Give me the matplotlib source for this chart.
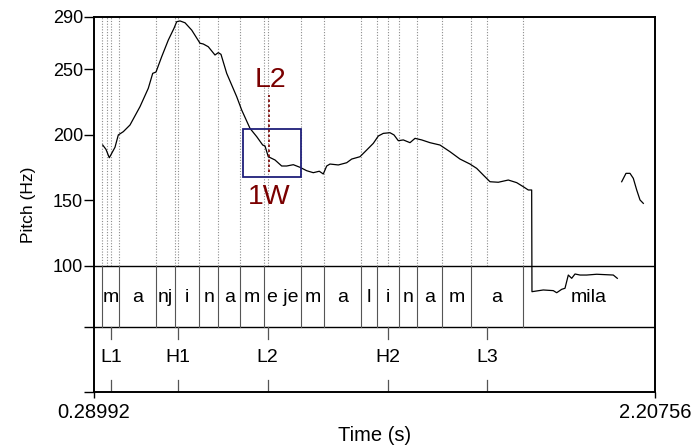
import matplotlib
matplotlib.use("Agg")
import matplotlib.pyplot as plt
from matplotlib.patches import Rectangle

plt.rcParams["font.family"] = ["Liberation Sans", "DejaVu Sans"]

# time axis limits (s)
t_start = 0.28992
t_end = 2.20756

# pitch track (s, Hz), first voiced stretch
pitch_t1 = [0.3197, 0.3309, 0.3422, 0.3617, 0.3730, 0.3901, 0.4130, 0.4472, 0.4755, 0.4906,
            0.5018, 0.5213, 0.5439, 0.5634, 0.5726, 0.5839, 0.6010, 0.6239, 0.6522, 0.6635,
            0.6806, 0.7035, 0.7148, 0.7240, 0.7435, 0.7777, 0.7948, 0.8232, 0.8461, 0.8666,
            0.8744, 0.8857, 0.9086, 0.9315, 0.9486, 0.9712, 0.9941, 1.0170, 1.0395, 1.0600,
            1.0737, 1.0853, 1.0966, 1.1250, 1.1537, 1.1708, 1.1992, 1.2221, 1.2447, 1.2618,
            1.2789, 1.3017, 1.3154, 1.3301, 1.3472, 1.3701, 1.3872, 1.4101, 1.4384, 1.4726,
            1.5068, 1.5410, 1.5751, 1.5980, 1.6206, 1.6435, 1.6719, 1.7061, 1.7348, 1.7573,
            1.7744, 1.7860, 1.7870, 1.8257, 1.8599, 1.8715, 1.8886, 1.8999, 1.9112, 1.9228,
            1.9341, 1.9512, 1.9741, 2.0083, 2.0650, 2.0787]
pitch_f1 = [192.3, 189.0, 182.6, 190.6, 200.0, 202.5, 207.6, 221.6, 235.6, 247.0,
            248.0, 259.7, 272.4, 281.4, 286.4, 287.0, 285.6, 280.0, 270.0, 269.4,
            267.3, 261.0, 262.8, 261.5, 247.0, 229.2, 219.0, 205.0, 198.7, 192.3,
            191.6, 183.4, 180.9, 176.3, 176.3, 177.3, 175.3, 172.7, 171.2, 172.3,
            170.2, 176.3, 177.8, 177.1, 178.8, 181.6, 183.4, 188.5, 193.6, 199.2,
            201.2, 201.7, 200.0, 195.6, 196.2, 194.1, 197.4, 196.2, 194.1, 192.3,
            187.2, 181.6, 177.8, 174.5, 169.4, 164.3, 163.9, 165.6, 163.6, 160.5,
            158.0, 158.0, 80.4, 81.7, 81.2, 79.6, 82.2, 83.0, 93.1, 90.6,
            93.9, 93.1, 93.1, 93.7, 93.1, 90.6]

# second voiced stretch
pitch_t2 = [2.0937, 2.1084, 2.1221, 2.1334, 2.1450, 2.1563, 2.1676]
pitch_f2 = [164.3, 170.7, 170.7, 166.9, 158.0, 150.4, 147.8]

# segment tier
seg_bounds = [0.3173, 0.3754, 0.5018, 0.5658, 0.6499, 0.7148, 0.7890, 0.8727, 0.9965,
              1.0778, 1.2016, 1.2583, 1.3335, 1.3930, 1.4794, 1.5775, 1.7573, t_end]
seg_labels = ["m", "a", "nj", "i", "n", "a", "m", "e je", "m", "a", "l", "i", "n",
              "a", "m", "a", "mila"]

# tone tier
tone_times = [0.3480, 0.5781, 0.8830, 1.2959, 1.6343]
tone_labels = ["L1", "H1", "L2", "H2", "L3"]

# other marks drawn as dotted lines only
extra_marks = [0.3333]

# annotation
box_t = [0.8002, 0.9975]
box_f = [167.9, 204.3]
ann_t = 0.8881
ann_f = [172.0, 230.5]

# layout in Hz units
f_top = 290
f_tier = 100
f_mid = 53.45
f_bot = 3.85

fig = plt.figure(figsize=(6.96, 4.47), dpi=100)
ax = fig.add_axes([94 / 696, 1 - 392 / 447, 561 / 696, 375 / 447])
ax.set_xlim(t_start, t_end)
ax.set_ylim(f_bot, f_top)

# dotted guides in the pitch area
for t in seg_bounds[:-1] + tone_times + extra_marks:
    ax.plot([t, t], [f_tier, f_top], color="#8c8c8c", lw=0.8, ls=(0, (1, 1.5)), zorder=1)

# tiers
ax.axhline(f_tier, color="black", lw=1.0)
ax.axhline(f_mid, color="black", lw=1.0)
for t in seg_bounds[:-1]:
    ax.plot([t, t], [f_mid, f_tier], color="#555555", lw=0.8)
left = seg_bounds[:-1]
right = seg_bounds[1:]
for a, b, lab in zip(left, right, seg_labels):
    ax.text((a + b) / 2, 76.3, lab, ha="center", va="center", fontsize=14)
for t, lab in zip(tone_times, tone_labels):
    ax.plot([t, t], [f_mid, f_mid - 9], color="#555555", lw=0.9)
    ax.plot([t, t], [f_bot, f_bot + 9], color="#555555", lw=0.9)
    ax.text(t, 29.8, lab, ha="center", va="center", fontsize=14)

# pitch curve
ax.plot(pitch_t1, pitch_f1, color="black", lw=0.9, zorder=3)
ax.plot(pitch_t2, pitch_f2, color="black", lw=0.9, zorder=3)

# annotation box and label
ax.add_patch(Rectangle((box_t[0], box_f[0]), box_t[1] - box_t[0], box_f[1] - box_f[0],
                       fill=False, edgecolor="#1f1f7a", lw=1.3, zorder=4))
ax.plot([ann_t, ann_t], ann_f, color="#7a0000", lw=1.2, ls=(0, (1.5, 1.5)), zorder=5)
ax.text(ann_t + 0.005, 242, "L2", color="#7a0000", ha="center", va="center", fontsize=20.5)
ax.text(ann_t, 152.5, "1W", color="#7a0000", ha="center", va="center", fontsize=20.5)

# axes
ax.set_yticks([f_bot, f_mid, 100, 150, 200, 250, 290])
ax.set_yticklabels(["", "", "100", "150", "200", "250", "290"], fontsize=13)
ax.set_xticks([t_start, t_end])
ax.set_xticklabels(["0.28992", "2.20756"], fontsize=14.5)
ax.tick_params(axis="y", direction="out", length=7, width=1.0, pad=1)
ax.tick_params(axis="x", direction="out", length=4, width=1.0, pad=4)
ax.set_xlabel("Time (s)", fontsize=14.5, labelpad=3)
ax.set_ylabel("Pitch (Hz)", fontsize=12.5, labelpad=12)
for s in ax.spines.values():
    s.set_linewidth(1.4)

fig.savefig("out.png", dpi=100)
